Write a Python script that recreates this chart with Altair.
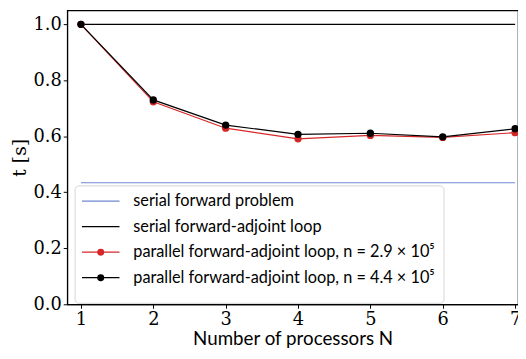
import altair as alt
import pandas as pd

# ---- data ----
N = [1, 2, 3, 4, 5, 6, 7]
t_par_29 = [1.0, 0.723, 0.629, 0.591, 0.603, 0.596, 0.613]
t_par_44 = [1.0, 0.730, 0.640, 0.607, 0.611, 0.598, 0.627]
t_serial_forward = 0.434
t_serial_loop = 1.0

names = [
    "serial forward problem",
    "serial forward-adjoint loop",
    "parallel forward-adjoint loop, n = 2.9 × 10⁵",
    "parallel forward-adjoint loop, n = 4.4 × 10⁵",
]
has_marker = [False, False, True, True]
colors = ["#6f87d1", "#000000", "#d62728", "#000000"]

rows = []
for n in [N[0], N[-1]]:
    rows.append({"N": n, "t": t_serial_forward, "s": names[0], "o": 0})
    rows.append({"N": n, "t": t_serial_loop, "s": names[1], "o": 1})
for n, a, b in zip(N, t_par_29, t_par_44):
    rows.append({"N": n, "t": a, "s": names[2], "o": 2})
    rows.append({"N": n, "t": b, "s": names[3], "o": 3})
df = pd.DataFrame(rows)
df_par = df[df["o"] >= 2]
df_leg = pd.DataFrame({"s": names, "row": list(range(len(names))),
                       "marker": has_marker})

SERIF = "DejaVu Serif"
SANS = "Lato"

cs = alt.Scale(domain=names, range=colors)
xs = alt.Scale(domain=[0.81, 7.04], nice=False, zero=False)
ys = alt.Scale(domain=[0, 1.05], nice=False)

x = alt.X("N:Q", scale=xs,
          axis=alt.Axis(values=N, format="d", title="Number of processors N",
                        grid=False, tickSize=4, labelFont=SERIF,
                        labelFontSize=18, labelPadding=2, titleFont=SANS,
                        titleFontSize=19, titleFontWeight="normal",
                        titlePadding=2, domainColor="black", tickColor="black",
                        labelColor="black", titleColor="black"))
y = alt.Y("t:Q", scale=ys,
          axis=alt.Axis(values=[0, 0.2, 0.4, 0.6, 0.8, 1.0], format=".1f",
                        title="t [s]", grid=False, tickSize=4,
                        labelFont=SERIF, labelFontSize=18,
                        labelPadding=2, titleFont=SERIF,
                        titleFontSize=19, titleFontWeight="normal",
                        titlePadding=4, domainColor="black", tickColor="black",
                        labelColor="black", titleColor="black"))

lines = alt.Chart(df).mark_line(strokeWidth=1.2).encode(
    x=x, y=y, detail="s:N", order="N:Q",
    color=alt.Color("s:N", scale=cs, legend=None),
)

pts = alt.Chart(df_par).mark_circle(size=55, opacity=1).encode(
    x=x, y=y, order="o:Q",
    color=alt.Color("s:N", scale=cs, legend=None),
)

# ---- hand-made legend (matplotlib style box) ----
ly = alt.Y("row:O", scale=alt.Scale(type="point",
                                    domain=list(range(len(names))),
                                    range=[193.5, 271], padding=0), axis=None)

leg_box = alt.Chart(pd.DataFrame({"a": [0]})).mark_rect(
    fill="white", fillOpacity=0.85, stroke="#d5d5d5", strokeWidth=1,
    cornerRadius=4,
).encode(x=alt.value(8), x2=alt.value(382), y=alt.value(178),
         y2=alt.value(297))

leg_line = alt.Chart(df_leg).mark_rule(strokeWidth=1.3).encode(
    x=alt.value(15), x2=alt.value(53), y=ly,
    color=alt.Color("s:N", scale=cs, legend=None),
)

leg_dot = alt.Chart(df_leg).transform_filter("datum.marker").mark_circle(
    size=50, opacity=1).encode(
    x=alt.value(34), y=ly,
    color=alt.Color("s:N", scale=cs, legend=None),
)

leg_text = alt.Chart(df_leg).mark_text(
    align="left", baseline="middle", font=SANS, fontSize=16.5, color="black",
).encode(x=alt.value(67), y=ly, text="s:N")

chart = alt.layer(lines, pts, leg_box, leg_line, leg_dot, leg_text).resolve_scale(
    y="independent"
).properties(
    width=457, height=298,
    autosize=alt.AutoSizeParams(type="none"),
    padding={"left": 60, "top": 0, "right": 0, "bottom": 44},
).configure_view(stroke="black", strokeWidth=1.2)

chart.save("out.html", embed_options={"renderer": "svg", "actions": False})
